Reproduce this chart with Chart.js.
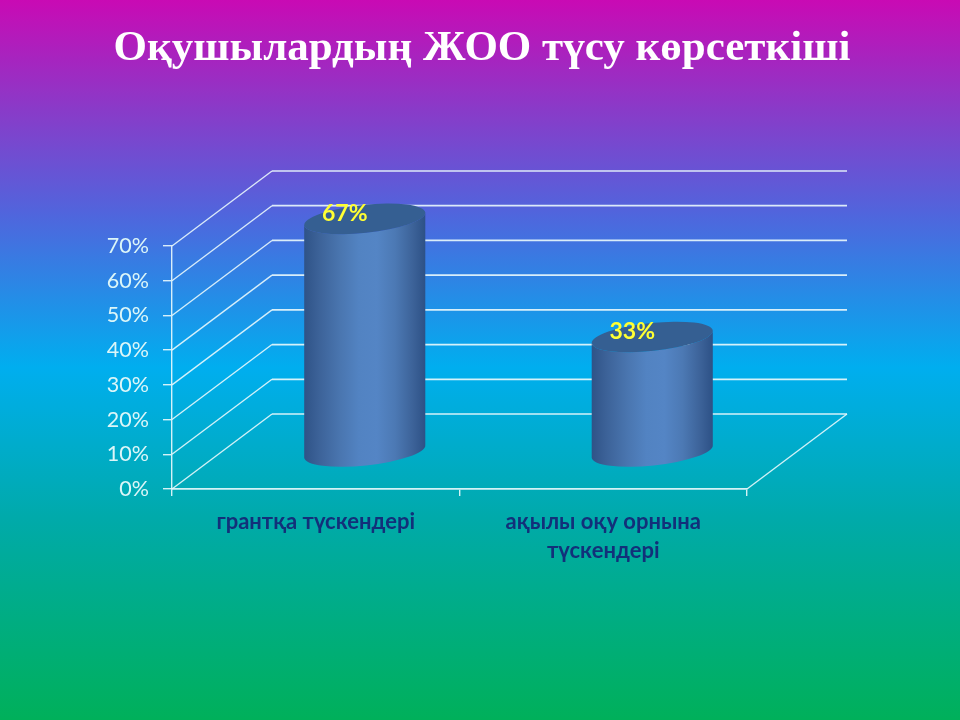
<!DOCTYPE html>
<html>
<head>
<meta charset="utf-8">
<title>Оқушылардың ЖОО түсу көрсеткіші</title>
<script src="https://cdn.jsdelivr.net/npm/chart.js@4"></script>
<style>
  html, body { margin: 0; padding: 0; }
  body {
    position: relative;
    width: 960px;
    height: 720px;
    overflow: hidden;
    background: linear-gradient(180deg, #c90ab4 0%, #8a3ac8 15%, #4f66dd 30%, #00aeef 51%, #00aaaa 72%, #00b05a 100%);
  }
  canvas { display: block; }
  h1 {
    position: absolute;
    left: 4px;
    top: 20px;
    width: 956px;
    margin: 0;
    color: #ffffff;
    font: bold 43px/52px "Liberation Serif", serif;
    text-align: center;
  }
</style>
</head>
<body>
<canvas id="chart" width="960" height="720"></canvas>
<h1 id="title"></h1>
<script>
const titleText = "Оқушылардың ЖОО түсу көрсеткіші";
const categories = ["грантқа түскендері", ["ақылы оқу орнына", "түскендері"]];
const percentValues = [67, 33];
const tickStep = 10;
const tickMax = 70;

// 3D box depth of the plot, in pixels
const depthX = 100;
const depthY = 75;
const lineColor = "rgba(235, 250, 252, 0.9)";

document.getElementById("title").textContent = titleText;

// back wall, side wall and floor lines, hung off the real y scale
const wallsPlugin = {
  id: "walls",
  beforeDatasetsDraw(chart) {
    const { ctx, chartArea, scales } = chart;
    const y = scales.y;
    ctx.save();
    ctx.strokeStyle = lineColor;
    y.ticks.forEach((t) => {
      const py = y.getPixelForValue(t.value);
      ctx.lineWidth = 1.3;
      ctx.beginPath();
      ctx.moveTo(chartArea.left, py);
      ctx.lineTo(chartArea.left + depthX, py - depthY);
      ctx.stroke();
      ctx.lineWidth = 1.7;
      ctx.beginPath();
      ctx.moveTo(chartArea.left + depthX, py - depthY);
      ctx.lineTo(chartArea.right + depthX, py - depthY);
      ctx.stroke();
    });
    const base = y.getPixelForValue(0);
    ctx.lineWidth = 1.3;
    ctx.beginPath();
    ctx.moveTo(chartArea.right, base);
    ctx.lineTo(chartArea.right + depthX, base - depthY);
    ctx.stroke();
    ctx.restore();
  },
};

// each bar element is drawn as a tilted cylinder standing mid-depth on the floor
const cylinderPlugin = {
  id: "cylinders",
  afterDatasetsDraw(chart) {
    const { ctx, scales } = chart;
    const meta = chart.getDatasetMeta(0);
    const base = scales.y.getPixelForValue(0) - depthY / 2;
    const tilt = -6 * Math.PI / 180;
    meta.data.forEach((bar, i) => {
      const cx = bar.x + depthX / 2 - 1;
      const top = bar.y - depthY / 2;
      const a = bar.width / 2 + 0.5;
      const b = 14;
      const dx = a * Math.cos(tilt);

      // rounded shading across the body, no hard crease in the middle
      const side = ctx.createLinearGradient(cx - dx, 0, cx + dx, 0);
      side.addColorStop(0, "#2f5387");
      side.addColorStop(0.12, "#3c6298");
      side.addColorStop(0.3, "#4a76b0");
      side.addColorStop(0.45, "#5283c2");
      side.addColorStop(0.6, "#5485c5");
      side.addColorStop(0.75, "#4c79b4");
      side.addColorStop(0.9, "#3c6298");
      side.addColorStop(1, "#2d5186");

      ctx.save();
      ctx.beginPath();
      ctx.ellipse(cx, base, a, b, tilt, 0, Math.PI);
      ctx.ellipse(cx, top, a, b, tilt, Math.PI, 0, true);
      ctx.closePath();
      ctx.fillStyle = side;
      ctx.fill();

      ctx.beginPath();
      ctx.ellipse(cx, top, a, b, tilt, 0, Math.PI * 2);
      ctx.fillStyle = "#355f92";
      ctx.fill();

      ctx.font = "bold 23px Lato, 'Open Sans', sans-serif";
      ctx.fillStyle = "#ffff33";
      ctx.textAlign = "center";
      ctx.textBaseline = "middle";
      ctx.fillText(percentValues[i] + "%", cx - 20, top - 5);
      ctx.restore();
    });
  },
};

new Chart(document.getElementById("chart"), {
  type: "bar",
  data: {
    labels: categories,
    datasets: [
      {
        data: percentValues,
        backgroundColor: "rgba(0, 0, 0, 0)",
        barPercentage: 0.42,
        categoryPercentage: 1,
      },
    ],
  },
  options: {
    responsive: false,
    animation: false,
    layout: { padding: { left: 0, right: 213, top: 246, bottom: 0 } },
    plugins: {
      legend: { display: false },
      tooltip: { enabled: false },
    },
    scales: {
      x: {
        afterFit(axis) { axis.height = 231; },
        border: { color: lineColor, width: 1.7 },
        grid: { drawOnChartArea: false, drawTicks: true, tickLength: 7, color: lineColor, lineWidth: 1.4 },
        ticks: {
          color: "#12307a",
          font: { family: "Lato, 'Open Sans', sans-serif", size: 22, weight: "bold", lineHeight: 1.3 },
          padding: 12,
          maxRotation: 0,
          autoSkip: false,
        },
      },
      y: {
        min: 0,
        max: tickMax,
        afterFit(axis) { axis.width = 172; },
        border: { color: lineColor, width: 1.4 },
        grid: { drawOnChartArea: false, drawTicks: true, tickLength: 9, color: lineColor, lineWidth: 1.4 },
        ticks: {
          stepSize: tickStep,
          color: "#dcf6f8",
          font: { family: "Lato, 'Open Sans', sans-serif", size: 21.5 },
          padding: 14,
          callback: (v) => v + "%",
        },
      },
    },
  },
  plugins: [wallsPlugin, cylinderPlugin],
});
</script>
</body>
</html>
